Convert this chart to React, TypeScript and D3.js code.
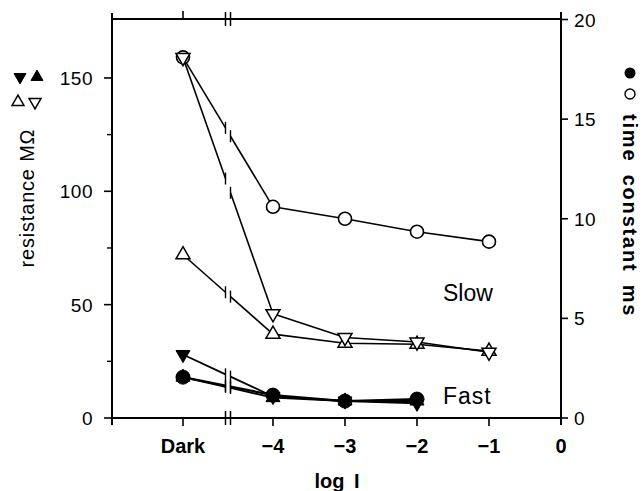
import React from "react";
import * as d3 from "d3";

// ---- data ----
const xLabels = ["Dark", "\u22124", "\u22123", "\u22122", "\u22121"];
const xValues = [-5.25, -4, -3, -2, -1];
// time constant (ms, right axis)
const slowTau = [18.1, 10.6, 10.0, 9.35, 8.85];
const fastTau = [2.05, 1.15, 0.85, 0.95];
// resistance (MOhm, left axis)
const slowResDown = [159, 46, 35.5, 33.5, 29];
const slowResUp = [72, 37, 33, 32.5, 29.5];
const fastResDown = [28, 9.5, 7.5, 6.5];
const fastResUp = [18, 9, 7.5, 7.5];

const leftTicks = [0, 50, 100, 150];
const leftMinor = [25, 75, 125];
const rightTicks = [0, 5, 10, 15, 20];
const breakValue = -4.625;

const W = 644, H = 491;
const L = 112, R = 561, T = 19, B = 418;
const FONT = "'Liberation Sans', Arial, Helvetica, sans-serif";

const x = d3.scaleLinear().domain([-6.236, 0]).range([L, R]);
const yL = d3.scaleLinear().domain([0, 176]).range([B, T]);
const yR = d3.scaleLinear().domain([0, 20]).range([B, T + 0.5]);

type Marker = "open-circle" | "filled-circle" | "open-down" | "open-up" | "filled-down" | "filled-up";

interface Series {
  values: number[];
  axis: "L" | "R";
  marker: Marker;
  width: number;
}

const series: Series[] = [
  { values: slowTau, axis: "R", marker: "open-circle", width: 1.6 },
  { values: slowResUp, axis: "L", marker: "open-up", width: 1.6 },
  { values: slowResDown, axis: "L", marker: "open-down", width: 1.6 },
  { values: fastResDown, axis: "L", marker: "filled-down", width: 1.8 },
  { values: fastResUp, axis: "L", marker: "filled-up", width: 1.8 },
  { values: fastTau, axis: "R", marker: "filled-circle", width: 2.2 },
];

const triPath = (size: number) => d3.symbol().type(d3.symbolTriangle).size(size)() as string;

function MarkerShape({ m, cx, cy, s = 1 }: { m: Marker; cx: number; cy: number; s?: number }) {
  const tri = triPath(85 * s * s);
  switch (m) {
    case "open-circle":
      return <circle cx={cx} cy={cy} r={6.5 * s} fill="white" stroke="black" strokeWidth={1.6} />;
    case "filled-circle":
      return <circle cx={cx} cy={cy} r={7 * s} fill="black" stroke="black" strokeWidth={1} />;
    case "open-up":
      return <path d={tri} transform={`translate(${cx},${cy})`} fill="white" stroke="black" strokeWidth={1.5} />;
    case "open-down":
      return <path d={tri} transform={`translate(${cx},${cy}) rotate(180)`} fill="white" stroke="black" strokeWidth={1.5} />;
    case "filled-up":
      return <path d={tri} transform={`translate(${cx},${cy})`} fill="black" stroke="black" strokeWidth={1} />;
    case "filled-down":
      return <path d={tri} transform={`translate(${cx},${cy}) rotate(180)`} fill="black" stroke="black" strokeWidth={1} />;
  }
}

function SeriesView({ s }: { s: Series }) {
  const y = s.axis === "L" ? yL : yR;
  const pts = s.values.map((v, i) => [x(xValues[i]), y(v)] as [number, number]);
  const bx = x(breakValue);
  const gap = 2.5;
  const [p0, p1] = pts;
  const interp = (xx: number) => p0[1] + ((xx - p0[0]) / (p1[0] - p0[0])) * (p1[1] - p0[1]);
  const ya = interp(bx - gap), yb = interp(bx + gap);
  const line = d3.line();
  const rest = line(pts.slice(1)) as string;
  return (
    <g>
      <path d={line([p0, [bx - gap, ya]]) as string} fill="none" stroke="black" strokeWidth={s.width} />
      <path d={line([[bx + gap, yb], p1]) as string} fill="none" stroke="black" strokeWidth={s.width} />
      <line x1={bx - gap} x2={bx - gap} y1={ya - 6} y2={ya + 6} stroke="black" strokeWidth={1.4} />
      <line x1={bx + gap} x2={bx + gap} y1={yb - 6} y2={yb + 6} stroke="black" strokeWidth={1.4} />
      <path d={rest} fill="none" stroke="black" strokeWidth={s.width} />
    </g>
  );
}

export default function App() {
  const bx = x(breakValue);
  return (
    <svg width={W} height={H} style={{ position: "absolute", left: 0, top: 0, background: "white" }} fontFamily={FONT}>
      <rect width={W} height={H} fill="white" />
      {/* axes frame */}
      <line x1={L} x2={L} y1={13} y2={B + 7} stroke="black" strokeWidth={2} />
      <line x1={R} x2={R} y1={12} y2={B + 7} stroke="black" strokeWidth={2} />
      <line x1={L} x2={R} y1={T} y2={T} stroke="black" strokeWidth={2} />
      <line x1={L} x2={R} y1={B} y2={B} stroke="black" strokeWidth={2} />
      {/* top axis tick and break */}
      <line x1={x(xValues[0])} x2={x(xValues[0])} y1={T} y2={T - 8} stroke="black" strokeWidth={1.6} />
      <line x1={bx - 2.5} x2={bx - 2.5} y1={T - 7} y2={T + 7} stroke="black" strokeWidth={1.5} />
      <line x1={bx + 2.5} x2={bx + 2.5} y1={T - 7} y2={T + 7} stroke="black" strokeWidth={1.5} />
      {/* bottom axis break */}
      <line x1={bx - 2.5} x2={bx - 2.5} y1={B - 7} y2={B + 7} stroke="black" strokeWidth={1.5} />
      <line x1={bx + 2.5} x2={bx + 2.5} y1={B - 7} y2={B + 7} stroke="black" strokeWidth={1.5} />
      {/* bottom ticks */}
      {xValues.map((v, i) => (
        <g key={i}>
          <line x1={x(v)} x2={x(v)} y1={B} y2={B + 8} stroke="black" strokeWidth={1.6} />
          <text x={x(v)} y={453} textAnchor="middle" fontSize={20} fontWeight="bold">{xLabels[i]}</text>
        </g>
      ))}
      <text x={x(0)} y={453} textAnchor="middle" fontSize={20} fontWeight="bold">0</text>
      <text x={337} y={488} textAnchor="middle" fontSize={20} fontWeight="bold" wordSpacing={4}>log I</text>
      {/* left ticks */}
      {leftTicks.map((t) => (
        <g key={t}>
          <line x1={L} x2={L - 8} y1={yL(t)} y2={yL(t)} stroke="black" strokeWidth={1.6} />
          <text x={93} y={yL(t) + 7} textAnchor="end" fontSize={19} letterSpacing={0.5}>{t}</text>
        </g>
      ))}
      {leftMinor.map((t) => (
        <line key={t} x1={L} x2={L - 5} y1={yL(t)} y2={yL(t)} stroke="black" strokeWidth={1.4} />
      ))}
      {/* right ticks */}
      {rightTicks.map((t) => (
        <g key={t}>
          <line x1={R} x2={R + 7} y1={yR(t)} y2={yR(t)} stroke="black" strokeWidth={1.6} />
          <text x={574} y={yR(t) + 7} textAnchor="start" fontSize={19} letterSpacing={0.5}>{t}</text>
        </g>
      ))}
      {/* left axis title and legend */}
      <text transform="translate(34,198) rotate(-90)" textAnchor="middle" fontSize={20} letterSpacing={0.8}>resistance M{"\u03A9"}</text>
      <MarkerShape m="filled-down" cx={20} cy={77} s={0.85} />
      <MarkerShape m="filled-up" cx={37} cy={77} s={0.85} />
      <MarkerShape m="open-up" cx={18} cy={102} s={0.85} />
      <MarkerShape m="open-down" cx={35} cy={102} s={0.85} />
      {/* right axis title */}
      <circle cx={630} cy={73} r={5.5} fill="black" />
      <circle cx={630} cy={94} r={5} fill="white" stroke="black" strokeWidth={1.4} />
      <text transform="translate(623,114) rotate(90)" textAnchor="start" fontSize={20} fontWeight="bold" letterSpacing={1.8} wordSpacing={5}>time constant ms</text>
      {/* series */}
      {series.map((s, i) => <SeriesView key={i} s={s} />)}
      {series.map((s, i) =>
        s.values.map((v, j) => (
          <MarkerShape key={`${i}-${j}`} m={s.marker} cx={x(xValues[j])} cy={(s.axis === "L" ? yL : yR)(v)} />
        ))
      )}
      <text x={443} y={301} fontSize={23}>Slow</text>
      <text x={443} y={404} fontSize={23} letterSpacing={1}>Fast</text>
    </svg>
  );
}
